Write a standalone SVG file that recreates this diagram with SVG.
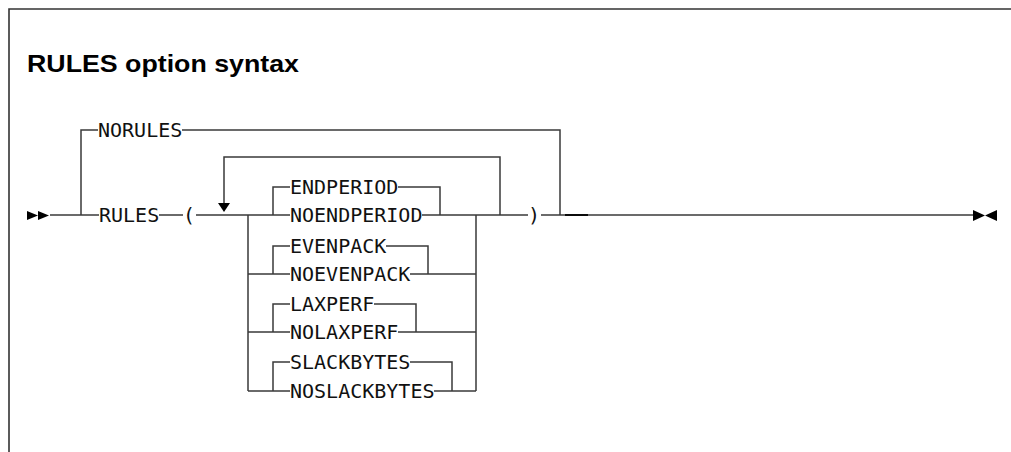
<svg xmlns="http://www.w3.org/2000/svg" width="1011" height="452" viewBox="0 0 1011 452">
<style>
.ln{stroke:#3a3a3a;stroke-width:1.5;fill:none}
.frame{stroke:#333;stroke-width:1.6;fill:none}
.t{font-family:"DejaVu Sans Mono","Liberation Mono",monospace;font-size:20px;fill:#111}
.title{font-family:"Liberation Sans",Arial,sans-serif;font-weight:bold;font-size:24px;fill:#000}
.ah{fill:#000}
</style>
<rect width="1011" height="452" fill="#fff"/>
<path class="frame" d="M9,452 V9 H1011"/>
<text class="title" x="27" y="72" textLength="272" lengthAdjust="spacingAndGlyphs">RULES option syntax</text>
<g id="connectors">
<path class="ln" d="M50,215 H99"/>
<path class="ln" d="M81,215 V130 H98 M182,130 H560 V215"/>
<path class="ln" d="M159,215 H183 M196,215 H290"/>
<path class="ln" d="M224,203 V157 H500 V215"/>
<path class="ln" d="M248,215 V391 M476,215 V391"/>
<path class="ln" d="M248,274 H290 M248,332 H290 M248,391 H290"/>
<path class="ln" d="M273,215 V187 H290 M273,274 V246 H290 M273,332 V304 H290 M273,391 V362 H290"/>
<path class="ln" d="M398,187 H440 V215 M386,246 H428 V274 M374,304 H416 V332 M410,362 H452 V391"/>
<path class="ln" d="M422,215 H528 M410,274 H476 M398,332 H476 M434,391 H476"/>
<path class="ln" d="M541,215 H973"/>
<path d="M565,215 H588" stroke="#000" stroke-width="1.8"/>
<polygon class="ah" points="27,211 38,215.5 27,220"/>
<polygon class="ah" points="38,211 49,215.5 38,220"/>
<polygon class="ah" points="973,210 985,215.5 973,221"/>
<polygon class="ah" points="997,210 985,215.5 997,221"/>
<polygon class="ah" points="218,203 230,203 224,212"/>
</g>
<g id="norules"><text class="t" x="98" y="137">NORULES</text></g>
<g id="rules"><text class="t" x="99" y="222">RULES</text></g>
<g id="lparen"><text class="t" x="183" y="222">(</text></g>
<g id="rparen"><text class="t" x="528" y="222">)</text></g>
<g id="endperiod"><text class="t" x="290" y="194">ENDPERIOD</text></g>
<g id="noendperiod"><text class="t" x="290" y="222">NOENDPERIOD</text></g>
<g id="evenpack"><text class="t" x="290" y="253">EVENPACK</text></g>
<g id="noevenpack"><text class="t" x="290" y="281">NOEVENPACK</text></g>
<g id="laxperf"><text class="t" x="290" y="311">LAXPERF</text></g>
<g id="nolaxperf"><text class="t" x="290" y="339">NOLAXPERF</text></g>
<g id="slackbytes"><text class="t" x="290" y="369">SLACKBYTES</text></g>
<g id="noslackbytes"><text class="t" x="290" y="398">NOSLACKBYTES</text></g>
</svg>
